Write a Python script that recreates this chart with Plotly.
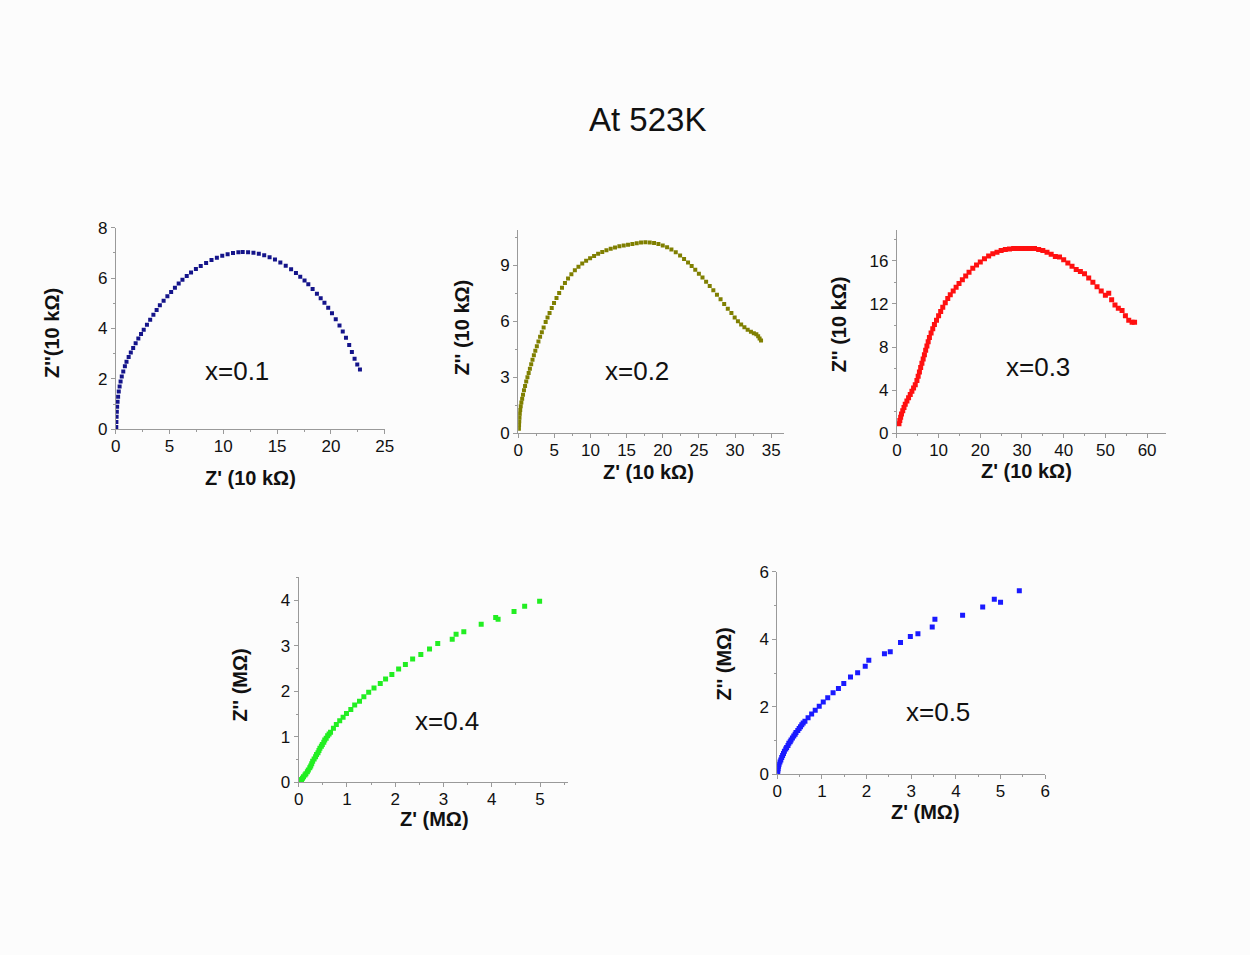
import plotly.graph_objects as go

W, H = 1250, 955

# ---------------- data ----------------
x1 = [0.05,0.06,0.08,0.10,0.13,0.17,0.22,0.28,0.36,0.45,0.56,0.70,0.85,1.00,1.20,1.40,1.62,1.85,2.10,2.35,2.60,2.90,3.20,3.50,3.80,4.10,4.45,4.80,5.15,5.50,5.85,6.20,6.60,7.00,7.45,7.90,8.40,8.90,9.40,9.90,10.40,10.90,11.40,11.80,12.30,12.80,13.30,13.80,14.30,14.80,15.30,15.80,16.30,16.75,17.15,17.55,17.90,18.30,18.70,19.05,19.40,19.75,20.10,20.45,20.80,21.10,21.40,21.70,21.95,22.20,22.45,22.70]
y1 = [0.10,0.30,0.50,0.70,0.90,1.10,1.30,1.50,1.70,1.90,2.10,2.30,2.50,2.68,2.87,3.05,3.23,3.42,3.60,3.78,3.95,4.15,4.35,4.55,4.73,4.92,5.10,5.28,5.45,5.62,5.78,5.93,6.08,6.22,6.36,6.48,6.60,6.71,6.80,6.88,6.94,6.99,7.02,7.03,7.02,7.00,6.96,6.90,6.82,6.73,6.62,6.49,6.35,6.20,6.05,5.90,5.75,5.57,5.38,5.20,5.02,4.82,4.60,4.37,4.12,3.88,3.63,3.35,3.07,2.80,2.57,2.38]

x2 = [0.10,0.12,0.15,0.18,0.22,0.28,0.35,0.44,0.55,0.67,0.80,0.95,1.11,1.28,1.45,1.62,1.80,1.98,2.17,2.37,2.58,2.80,3.03,3.27,3.52,3.80,4.06,4.34,4.64,4.96,5.30,5.67,6.06,6.47,6.90,7.36,7.84,8.34,8.86,9.40,9.95,10.50,11.06,11.63,12.21,12.80,13.40,14.00,14.60,15.20,15.80,16.40,17.00,17.60,18.20,18.80,19.40,20.00,20.60,21.20,21.80,22.40,22.95,23.50,24.00,24.50,25.00,25.50,26.00,26.50,27.00,27.50,28.00,28.50,29.00,29.50,29.95,30.40,30.85,31.30,31.75,32.20,32.60,32.95,33.20,33.40,33.60]
y2 = [0.25,0.45,0.65,0.85,1.05,1.25,1.45,1.65,1.85,2.07,2.30,2.53,2.77,3.00,3.23,3.46,3.70,3.94,4.18,4.42,4.66,4.91,5.16,5.41,5.66,5.95,6.19,6.44,6.70,6.97,7.24,7.51,7.78,8.04,8.28,8.51,8.72,8.91,9.08,9.23,9.37,9.49,9.60,9.70,9.79,9.87,9.94,10.00,10.05,10.09,10.13,10.17,10.20,10.22,10.21,10.18,10.13,10.05,9.95,9.83,9.68,9.51,9.33,9.14,8.95,8.75,8.54,8.33,8.11,7.88,7.65,7.41,7.17,6.92,6.67,6.43,6.20,6.00,5.82,5.67,5.54,5.43,5.35,5.30,5.20,5.07,4.97]

x3 = [0.5,0.7,0.9,1.1,1.4,1.7,2.0,2.4,2.8,3.2,3.6,4.0,4.4,4.8,5.1,5.4,5.7,6.0,6.3,6.6,6.9,7.2,7.5,7.8,8.2,8.6,9.0,9.5,10.0,10.5,11.0,11.6,12.2,12.8,13.5,14.2,14.9,15.7,16.5,17.3,18.2,19.1,20.0,21.0,22.0,23.0,24.0,25.0,26.0,27.0,28.0,29.0,30.0,31.0,32.0,33.0,34.0,35.0,36.0,37.0,38.0,39.0,40.0,41.0,42.0,43.0,44.0,45.0,46.0,47.0,48.0,49.0,50.0,50.8,51.5,52.3,53.1,54.0,54.8,55.6,56.4,57.0]
y3 = [0.9,1.2,1.5,1.8,2.1,2.4,2.7,3.0,3.3,3.6,3.9,4.2,4.5,4.9,5.3,5.7,6.1,6.5,6.9,7.3,7.7,8.1,8.5,8.9,9.3,9.7,10.1,10.5,10.9,11.3,11.7,12.1,12.5,12.85,13.2,13.55,13.9,14.25,14.6,14.95,15.3,15.6,15.9,16.2,16.45,16.65,16.8,16.95,17.05,17.1,17.15,17.15,17.15,17.15,17.15,17.15,17.05,16.95,16.8,16.6,16.4,16.35,16.1,15.8,15.5,15.2,15.0,14.8,14.4,14.0,13.6,13.2,12.8,13.0,12.4,11.9,11.6,11.4,10.9,10.5,10.3,10.3]

x4 = [0.02,0.04,0.06,0.08,0.10,0.13,0.15,0.18,0.20,0.23,0.25,0.27,0.29,0.32,0.35,0.37,0.40,0.42,0.44,0.47,0.49,0.52,0.54,0.57,0.60,0.63,0.66,0.72,0.78,0.85,0.92,0.99,1.08,1.16,1.26,1.35,1.45,1.56,1.69,1.80,1.93,2.07,2.21,2.36,2.53,2.71,2.88,3.18,3.26,3.42,3.78,4.08,4.13,4.46,4.68,4.99]
y4 = [0.02,0.04,0.06,0.09,0.12,0.16,0.19,0.23,0.27,0.32,0.36,0.41,0.46,0.51,0.56,0.61,0.65,0.70,0.75,0.79,0.83,0.88,0.93,0.97,1.02,1.06,1.10,1.19,1.27,1.35,1.43,1.51,1.60,1.70,1.78,1.88,1.98,2.07,2.17,2.27,2.37,2.49,2.59,2.71,2.81,2.93,3.05,3.14,3.25,3.31,3.47,3.62,3.58,3.75,3.87,3.98]

x5 = [0.01,0.01,0.02,0.03,0.04,0.06,0.08,0.10,0.12,0.14,0.16,0.19,0.21,0.24,0.26,0.29,0.31,0.34,0.37,0.40,0.42,0.46,0.49,0.52,0.55,0.58,0.62,0.69,0.77,0.85,0.94,1.03,1.13,1.25,1.37,1.49,1.64,1.80,1.97,2.05,2.40,2.53,2.76,2.98,3.15,3.47,3.53,4.15,4.60,4.86,5.00,5.42]
y5 = [0.05,0.11,0.17,0.24,0.30,0.37,0.43,0.50,0.56,0.62,0.69,0.75,0.80,0.86,0.92,0.97,1.02,1.08,1.14,1.19,1.24,1.30,1.36,1.41,1.47,1.52,1.57,1.68,1.79,1.90,2.02,2.14,2.27,2.42,2.54,2.69,2.88,3.01,3.20,3.38,3.57,3.63,3.90,4.08,4.16,4.36,4.59,4.71,4.95,5.18,5.09,5.43]

series = [
    dict(x=x1, y=y1, color="#14148a", size=4, xr=[0, 25], yr=[0, 8], xt=[0, 5, 10, 15, 20, 25], yt=[0, 2, 4, 6, 8],
         xm=2.5, ym=1, dom=(112, 384, 223, 429), label="x=0.1", lab=(235, 369),
         xtitle="Z' (10 kΩ)", xtpos=(248, 479), ytitle="Z''(10 kΩ)", ytpos=(48, 330)),
    dict(x=x2, y=y2, color="#7f7f00", size=4, xr=[0, 36.8], yr=[0, 10.9], xt=[0, 5, 10, 15, 20, 25, 30, 35], yt=[0, 3, 6, 9],
         xm=2.5, ym=1.5, dom=(519, 788, 225, 433), label="x=0.2", lab=(639, 369),
         xtitle="Z' (10 kΩ)", xtpos=(651, 472), ytitle="Z'' (10 kΩ)", ytpos=(462, 325)),
    dict(x=x3, y=y3, color="#ff1010", size=5, xr=[0, 64.5], yr=[0, 18.9], xt=[0, 10, 20, 30, 40, 50, 60], yt=[0, 4, 8, 12, 16],
         xm=5, ym=2, dom=(902, 1174, 225, 433), label="x=0.3", lab=(1045, 365),
         xtitle="Z' (10 kΩ)", xtpos=(1033, 471), ytitle="Z'' (10 kΩ)", ytpos=(843, 322)),
    dict(x=x4, y=y4, color="#22ee22", size=5, xr=[0, 5.57], yr=[0, 4.5], xt=[0, 1, 2, 3, 4, 5], yt=[0, 1, 2, 3, 4],
         xm=0.5, ym=0.5, dom=(297, 569, 580, 789), label="x=0.4", lab=(447, 726),
         xtitle="Z' (MΩ)", xtpos=(434, 826), ytitle="Z'' (MΩ)", ytpos=(238, 690)),
    dict(x=x5, y=y5, color="#1a1aff", size=5, xr=[0, 6], yr=[0, 6], xt=[0, 1, 2, 3, 4, 5, 6], yt=[0, 2, 4, 6],
         xm=0.5, ym=1, dom=(781, 1052, 574, 781), label="x=0.5", lab=(944, 717),
         xtitle="Z' (MΩ)", xtpos=(931, 819), ytitle="Z'' (MΩ)", ytpos=(727, 668)),
]

FONT = "Liberation Sans, Arial, sans-serif"
AXC = "#9a9a9a"

fig = go.Figure()
annotations = []

def px(xp):
    return xp / W

def py(yp):
    return 1 - yp / H

for i, s in enumerate(series):
    n = "" if i == 0 else str(i + 1)
    fig.add_trace(go.Scatter(x=s["x"], y=s["y"], mode="markers", xaxis="x" + n, yaxis="y" + n,
                             marker=dict(symbol="square", size=s["size"], color=s["color"], line=dict(width=0)),
                             showlegend=False, hoverinfo="x+y"))
    x0, x1p, y0, y1p = s["dom"]
    common = dict(showline=True, linecolor=AXC, linewidth=1, ticks="outside", ticklen=4, tickcolor=AXC,
                  showgrid=False, zeroline=False, tickfont=dict(family=FONT, size=17, color="#111"),
                  fixedrange=True)
    fig.layout["xaxis" + n] = dict(domain=[px(x0), px(x1p)], range=s["xr"], tickvals=s["xt"],
                                   anchor="y" + n, ticklabelstandoff=-3,
                                   minor=dict(ticks="outside", ticklen=2, tickcolor=AXC, dtick=s["xm"], tick0=0),
                                   **common)
    fig.layout["yaxis" + n] = dict(domain=[py(y1p), py(y0)], range=s["yr"], tickvals=s["yt"],
                                   anchor="x" + n,
                                   minor=dict(ticks="outside", ticklen=2, tickcolor=AXC, dtick=s["ym"], tick0=0),
                                   **common)
    annotations.append(dict(text=s["label"], x=px(s["lab"][0]), y=py(s["lab"][1]), xref="paper", yref="paper",
                            showarrow=False, xanchor="center", yanchor="middle",
                            font=dict(family=FONT, size=26, color="#111")))
    annotations.append(dict(text="<b>" + s["xtitle"] + "</b>", x=px(s["xtpos"][0]), y=py(s["xtpos"][1]),
                            xref="paper", yref="paper", showarrow=False, xanchor="center", yanchor="middle",
                            font=dict(family=FONT, size=20, color="#111")))
    annotations.append(dict(text="<b>" + s["ytitle"] + "</b>", x=px(s["ytpos"][0]), y=py(s["ytpos"][1]),
                            xref="paper", yref="paper", showarrow=False, xanchor="center", yanchor="middle",
                            textangle=-90, font=dict(family=FONT, size=20, color="#111")))

annotations.append(dict(text="At 523K", x=px(650), y=py(113), xref="paper", yref="paper", showarrow=False,
                        xanchor="center", yanchor="middle", font=dict(family=FONT, size=33, color="#111")))

fig.update_layout(width=W, height=H, margin=dict(l=0, r=0, t=0, b=0),
                  paper_bgcolor="#fcfcfc", plot_bgcolor="rgba(0,0,0,0)",
                  annotations=annotations, showlegend=False)

fig.write_html("out.html")
